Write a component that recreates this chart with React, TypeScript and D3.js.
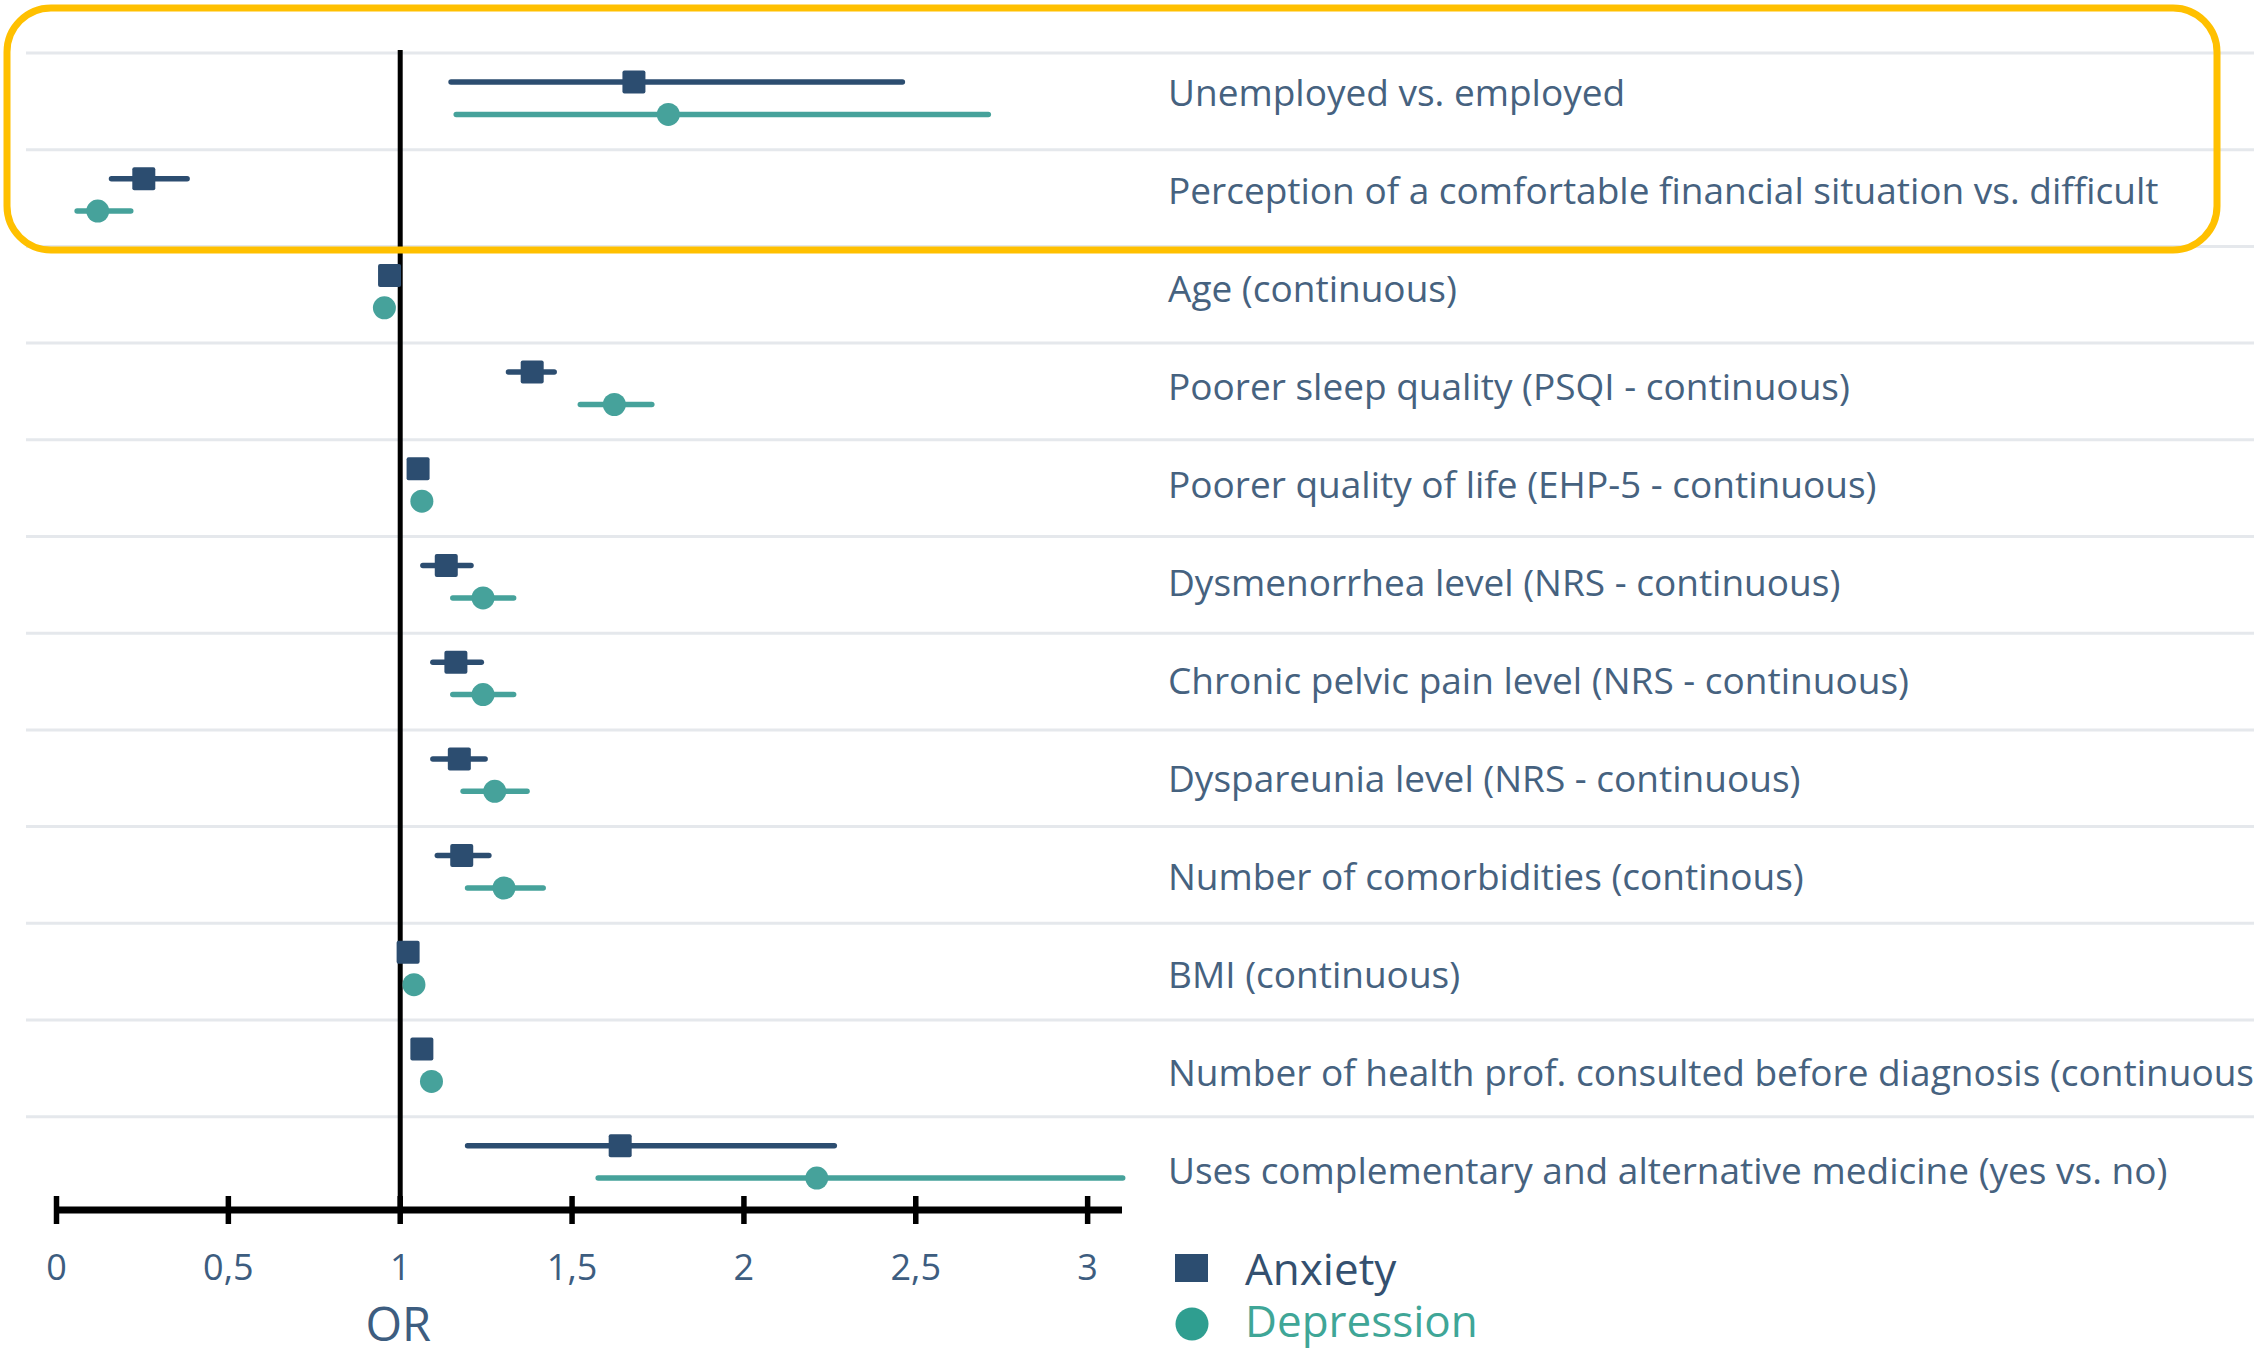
import React from 'react';
import * as d3 from 'd3';

// row labels, top to bottom
const factors = [
  'Unemployed vs. employed',
  'Perception of a comfortable financial situation vs. difficult',
  'Age (continuous)',
  'Poorer sleep quality (PSQI - continuous)',
  'Poorer quality of life (EHP-5 - continuous)',
  'Dysmenorrhea level (NRS - continuous)',
  'Chronic pelvic pain level (NRS - continuous)',
  'Dyspareunia level (NRS - continuous)',
  'Number of comorbidities (continous)',
  'BMI (continuous)',
  'Number of health prof. consulted before diagnosis (continuous)',
  'Uses complementary and alternative medicine (yes vs. no)',
];

// odds ratios and 95% CI
const anxietyOR = [1.68, 0.254, 0.969, 1.384, 1.052, 1.134, 1.162, 1.172, 1.179, 1.023, 1.063, 1.64];
const anxietyLow = [1.148, 0.16, 0.955, 1.315, 1.035, 1.066, 1.095, 1.095, 1.108, 1.005, 1.045, 1.196];
const anxietyHigh = [2.461, 0.38, 0.983, 1.448, 1.07, 1.206, 1.236, 1.247, 1.258, 1.04, 1.08, 2.263];

const depressionOR = [1.78, 0.12, 0.954, 1.623, 1.063, 1.241, 1.241, 1.275, 1.302, 1.04, 1.091, 2.212];
const depressionLow = [1.163, 0.06, 0.94, 1.524, 1.045, 1.153, 1.153, 1.183, 1.196, 1.02, 1.07, 1.576];
const depressionHigh = [2.711, 0.216, 0.97, 1.732, 1.08, 1.33, 1.33, 1.369, 1.416, 1.06, 1.11, 3.102];

const tickValues = [0, 0.5, 1, 1.5, 2, 2.5, 3];
const tickLabels = ['0', '0,5', '1', '1,5', '2', '2,5', '3'];

const legendItems = ['Anxiety', 'Depression'];

const W = 2254;
const H = 1355;
const NAVY = '#2c4d70';
const TEAL = '#46a29b';
const TEXT = '#46627f';
const FONT = '"Open Sans", Lato, sans-serif';

export default function App() {
  const x = d3.scaleLinear().domain([0, 3.1]).range([56.5, 1122]);
  const y = d3.scaleBand().domain(factors).range([53, 1213.4]);
  const yLabel = d3.scalePoint().domain(factors).range([93, 1171]);
  const bw = y.bandwidth();
  const axisY = 1210;

  const series = [
    { name: 'Anxiety', or: anxietyOR, lo: anxietyLow, hi: anxietyHigh, color: NAVY, off: 0.3 },
    { name: 'Depression', or: depressionOR, lo: depressionLow, hi: depressionHigh, color: TEAL, off: 0.635 },
  ];

  return (
    <div style={{ position: 'absolute', left: 0, top: 0 }}>
      <svg width={W} height={H} style={{ display: 'block', background: '#fff' }}>
        {/* grid lines */}
        {factors.map((f) => (
          <line key={f} x1={26} x2={W} y1={y(f)} y2={y(f)} stroke="#e5e8ec" strokeWidth={3} />
        ))}

        {/* reference line at OR = 1 */}
        <line x1={x(1)} x2={x(1)} y1={50} y2={axisY} stroke="#000" strokeWidth={5} />

        {/* CI lines + markers */}
        {series.map((s) => (
          <g key={s.name}>
            {factors.map((f, i) => {
              const cy = (y(f) as number) + bw * s.off;
              return (
                <g key={f}>
                  <line x1={x(s.lo[i])} x2={x(s.hi[i])} y1={cy} y2={cy}
                    stroke={s.color} strokeWidth={5.5} strokeLinecap="round" />
                  {s.name === 'Anxiety' ? (
                    <rect x={x(s.or[i]) - 11.5} y={cy - 11.5} width={23} height={23} rx={2} fill={s.color} />
                  ) : (
                    <circle cx={x(s.or[i])} cy={cy} r={11.5} fill={s.color} />
                  )}
                </g>
              );
            })}
          </g>
        ))}

        {/* x axis */}
        <line x1={x(0) - 2} x2={x.range()[1]} y1={axisY} y2={axisY} stroke="#000" strokeWidth={7} />
        {tickValues.map((t, i) => (
          <g key={t} transform={`translate(${x(t)},0)`}>
            <line y1={axisY - 14} y2={axisY + 14} stroke="#000" strokeWidth={5.5} />
            <text y={1280} textAnchor="middle" fontFamily={FONT} fontSize={36} fill="#3d5d80">
              {tickLabels[i]}
            </text>
          </g>
        ))}
        <text x={x(1) - 2} y={1341} textAnchor="middle" fontFamily={FONT} fontSize={47} fill="#3d5d80">
          OR
        </text>

        {/* row labels */}
        {factors.map((f) => (
          <text key={f} x={1168} y={(yLabel(f) as number) + 13} fontFamily={FONT} fontSize={37} fill={TEXT}>
            {f}
          </text>
        ))}

        {/* legend */}
        <rect x={1175} y={1254} width={33} height={28} fill={NAVY} />
        <text x={1245} y={1285} fontFamily={FONT} fontSize={44} fill="#34506f">{legendItems[0]}</text>
        <circle cx={1192} cy={1324} r={16.5} fill="#2f9e90" />
        <text x={1245} y={1337} fontFamily={FONT} fontSize={44} fill="#3fa697">{legendItems[1]}</text>

        {/* highlight box */}
        <rect x={7} y={8} width={2210} height={242} rx={44} ry={44}
          fill="none" stroke="#ffc000" strokeWidth={7} />
      </svg>
    </div>
  );
}
